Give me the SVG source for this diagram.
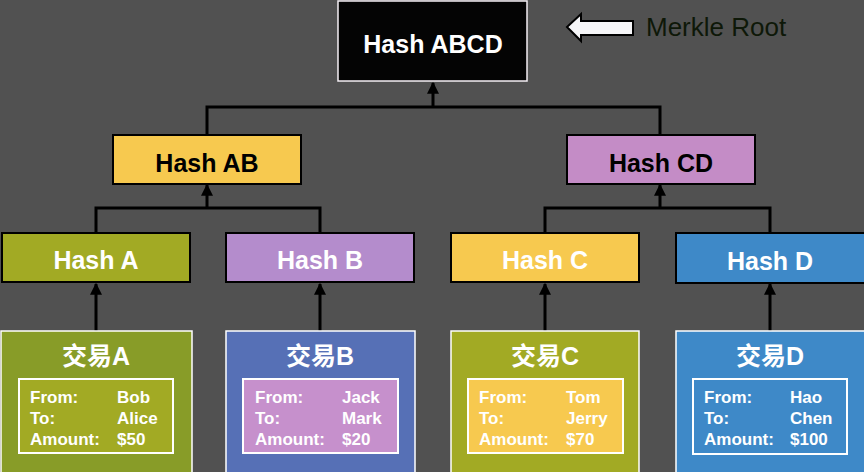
<svg xmlns="http://www.w3.org/2000/svg" width="864" height="472" viewBox="0 0 864 472">
<defs>
<marker id="ah" viewBox="0 0 10 10" refX="9" refY="5" markerWidth="4" markerHeight="4" orient="auto" markerUnits="strokeWidth">
<path d="M0 0 L10 5 L0 10 Z" fill="#000"/>
</marker>
</defs>
<style>
.hash{stroke:#000;stroke-width:2}
.ht{font-family:"Liberation Sans",Arial,sans-serif;font-weight:bold;font-size:25px;text-anchor:middle}
.tx{stroke:#fff;stroke-width:1.5}
.tt{font-family:"Liberation Sans","Noto Sans CJK SC",sans-serif;font-weight:bold;font-size:25px;fill:#fff;text-anchor:middle}
.inner{stroke:#fff;stroke-width:2}
.it{font-family:"Liberation Sans",Arial,sans-serif;font-weight:bold;font-size:17px;fill:#fff}
.conn path{fill:none;stroke:#000;stroke-width:3}
</style>
<rect width="864" height="472" fill="#515151"/>

<g class="conn" id="connectors">
<path d="M207 134 V107 H660 V134"/>
<path d="M433 107 V83" marker-end="url(#ah)"/>
<path d="M96 232 V208 H320 V232"/>
<path d="M207 208 V185" marker-end="url(#ah)"/>
<path d="M545 232 V208 H770 V232"/>
<path d="M660 208 V185" marker-end="url(#ah)"/>
<path d="M96 331 V284" marker-end="url(#ah)"/>
<path d="M320 331 V284" marker-end="url(#ah)"/>
<path d="M545 331 V284" marker-end="url(#ah)"/>
<path d="M770 331 V284" marker-end="url(#ah)"/>
</g>

<g id="root">
<rect x="338" y="1" width="189" height="80" fill="#040404" stroke="#f4eef4" stroke-width="1.5"/>
<text class="ht" x="433" y="53" fill="#fff" font-size="26">Hash ABCD</text>
</g>

<g id="merkle-label">
<polygon points="567,27 581,14 581,21 633,21 633,35 581,35 581,41" fill="#f6f6f8" stroke="#000" stroke-width="2"/>
<text x="646" y="36" font-family="Liberation Sans,Arial,sans-serif" font-size="26" fill="#0e1808">Merkle Root</text>
</g>

<g id="hashAB">
<rect class="hash" x="113" y="135" width="188" height="49" fill="#f7c94f"/>
<text class="ht" x="207" y="172" fill="#000">Hash AB</text>
</g>
<g id="hashCD">
<rect class="hash" x="567" y="135" width="188" height="49" fill="#c48cc6"/>
<text class="ht" x="661" y="172" fill="#000">Hash CD</text>
</g>

<g id="hashA">
<rect class="hash" x="2" y="233" width="188" height="49" fill="#a2aa24"/>
<text class="ht" x="96" y="269" fill="#fff">Hash A</text>
</g>
<g id="hashB">
<rect class="hash" x="226" y="233" width="188" height="49" fill="#b48ccc"/>
<text class="ht" x="320" y="269" fill="#fff">Hash B</text>
</g>
<g id="hashC">
<rect class="hash" x="451" y="233" width="188" height="49" fill="#f7c94f"/>
<text class="ht" x="545" y="269" fill="#fff">Hash C</text>
</g>
<g id="hashD">
<rect class="hash" x="676" y="233" width="190" height="50" fill="#3e89c8"/>
<text class="ht" x="770" y="270" fill="#fff">Hash D</text>
</g>

<g id="txA">
<rect class="tx" x="1" y="331" width="191" height="145" fill="#889c28"/>
<text class="tt" x="96" y="365">交易A</text>
<rect class="inner" x="19" y="379" width="154" height="74" fill="#a2aa24"/>
<text class="it" x="30" y="403">From:</text><text class="it" x="117" y="403">Bob</text>
<text class="it" x="30" y="424">To:</text><text class="it" x="117" y="424">Alice</text>
<text class="it" x="30" y="445">Amount:</text><text class="it" x="117" y="445">$50</text>
</g>
<g id="txB">
<rect class="tx" x="226" y="331" width="189" height="145" fill="#5670b6"/>
<text class="tt" x="320" y="365">交易B</text>
<rect class="inner" x="243" y="379" width="155" height="74" fill="#c690cc"/>
<text class="it" x="255" y="403">From:</text><text class="it" x="342" y="403">Jack</text>
<text class="it" x="255" y="424">To:</text><text class="it" x="342" y="424">Mark</text>
<text class="it" x="255" y="445">Amount:</text><text class="it" x="342" y="445">$20</text>
</g>
<g id="txC">
<rect class="tx" x="451" y="331" width="188" height="145" fill="#a2aa24"/>
<text class="tt" x="545" y="365">交易C</text>
<rect class="inner" x="468" y="379" width="155" height="74" fill="#f7c94f"/>
<text class="it" x="479" y="403">From:</text><text class="it" x="566" y="403">Tom</text>
<text class="it" x="479" y="424">To:</text><text class="it" x="566" y="424">Jerry</text>
<text class="it" x="479" y="445">Amount:</text><text class="it" x="566" y="445">$70</text>
</g>
<g id="txD">
<rect class="tx" x="676" y="331" width="190" height="145" fill="#3e89c8"/>
<text class="tt" x="770" y="365">交易D</text>
<rect class="inner" x="693" y="379" width="154" height="75" fill="#3e89c8"/>
<text class="it" x="704" y="403">From:</text><text class="it" x="790" y="403">Hao</text>
<text class="it" x="704" y="424">To:</text><text class="it" x="790" y="424">Chen</text>
<text class="it" x="704" y="445">Amount:</text><text class="it" x="790" y="445">$100</text>
</g>
</svg>
